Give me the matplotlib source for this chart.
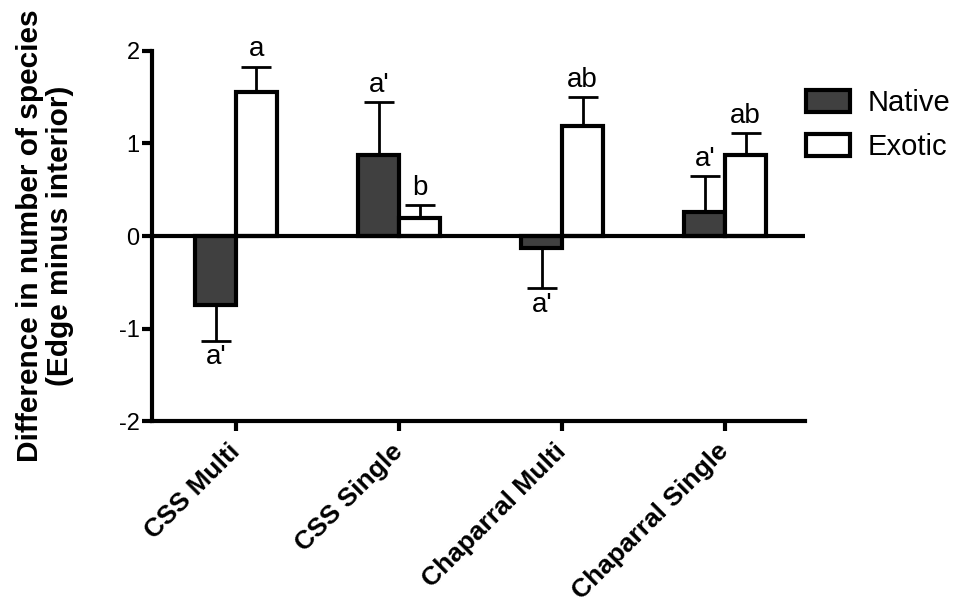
import matplotlib

matplotlib.use("Agg")

import matplotlib.pyplot as plt
import numpy as np

plt.rcParams["font.family"] = ["Liberation Sans", "DejaVu Sans"]

categories = ["CSS Multi", "CSS Single", "Chaparral Multi", "Chaparral Single"]
native_mean = [-0.75, 0.88, -0.13, 0.26]
native_err = [0.38, 0.57, 0.43, 0.39]
exotic_mean = [1.56, 0.19, 1.19, 0.87]
exotic_err = [0.27, 0.14, 0.31, 0.24]
native_letters = ["a'", "a'", "a'", "a'"]
exotic_letters = ["a", "b", "ab", "ab"]

fig = plt.figure(figsize=(9.63, 6.13), dpi=100)
ax = fig.add_axes([0.158, 0.313, 0.678, 0.604])

x = np.arange(len(categories))
w = 0.25
lw = 3.0

nat = np.array(native_mean)
exo = np.array(exotic_mean)

ax.bar(x - w / 2, nat, w, color="#404040", edgecolor="black", linewidth=lw, label="Native", zorder=3)
ax.bar(x + w / 2, exo, w, color="white", edgecolor="black", linewidth=lw, label="Exotic", zorder=3)


def one_sided(means, errs):
    lower = [e if m < 0 else 0 for m, e in zip(means, errs)]
    upper = [e if m >= 0 else 0 for m, e in zip(means, errs)]
    return [lower, upper]


ax.errorbar(x - w / 2, nat, yerr=one_sided(native_mean, native_err), fmt="none",
            ecolor="black", elinewidth=2.0, capsize=11, capthick=2.0, zorder=2)
ax.errorbar(x + w / 2, exo, yerr=one_sided(exotic_mean, exotic_err), fmt="none",
            ecolor="black", elinewidth=2.0, capsize=11, capthick=2.0, zorder=2)

fs_letter = 20
for xi, m, e, t in zip(x - w / 2, native_mean, native_err, native_letters):
    if m < 0:
        ax.text(xi, m - e - 0.04, t, ha="center", va="top", fontsize=fs_letter)
    else:
        ax.text(xi, m + e + 0.04, t, ha="center", va="bottom", fontsize=fs_letter)
for xi, m, e, t in zip(x + w / 2, exotic_mean, exotic_err, exotic_letters):
    ax.text(xi, m + e + 0.05, t, ha="center", va="bottom", fontsize=fs_letter)

ax.axhline(0, color="black", linewidth=lw, zorder=4)

ax.set_xlim(-0.515, 3.49)
ax.set_ylim(-2, 2)
ax.set_yticks([-2, -1, 0, 1, 2])
ax.set_yticklabels(["-2", "-1", "0", "1", "2"], fontsize=17)
ax.set_xticks(x)
ax.set_xticklabels(categories, rotation=45, ha="right", va="center", rotation_mode="anchor",
                   fontsize=19, fontweight="bold")

for side in ["top", "right"]:
    ax.spines[side].set_visible(False)
for side in ["left", "bottom"]:
    ax.spines[side].set_linewidth(lw)
ax.tick_params(axis="both", width=lw, length=7, direction="out", pad=2)
ax.tick_params(axis="x", pad=12)

ax.set_ylabel("Difference in number of species\n(Edge minus interior)",
              fontsize=21.5, fontweight="bold", labelpad=32, linespacing=1.12)

fig.legend(*ax.get_legend_handles_labels(), loc="upper left",
           bbox_to_anchor=(806 / 963, 1 - 89 / 613), bbox_transform=fig.transFigure,
           frameon=False, fontsize=21, borderaxespad=0, borderpad=0,
           handlelength=1.5, handleheight=0.8, labelspacing=0.55, handletextpad=0.6)

fig.savefig("out.png", dpi=100)
